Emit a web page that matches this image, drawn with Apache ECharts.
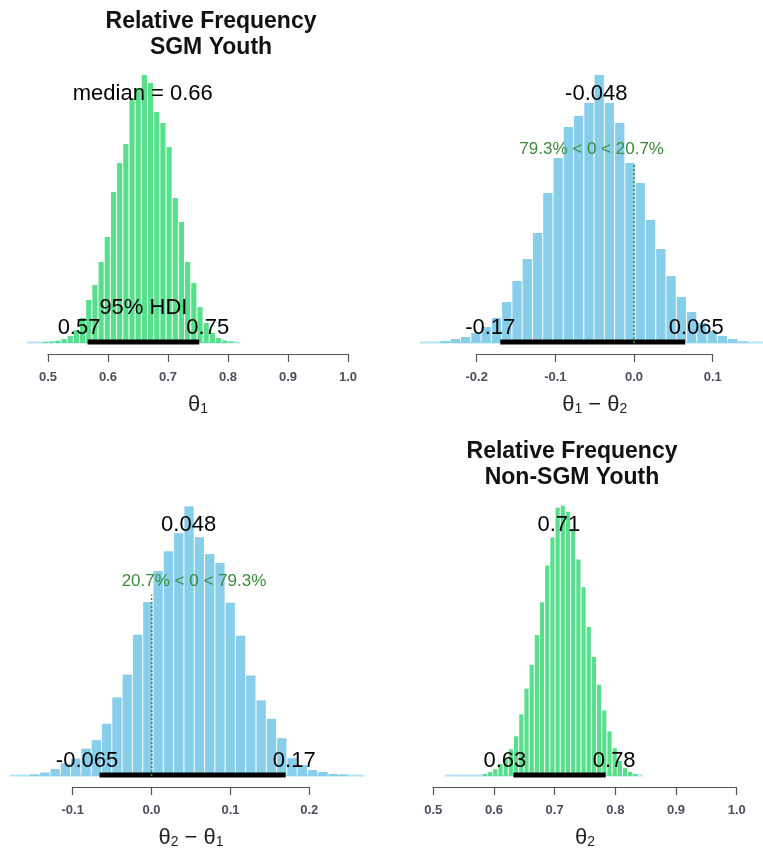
<!DOCTYPE html>
<html><head><meta charset="utf-8">
<script src="https://cdn.jsdelivr.net/npm/echarts@6/dist/echarts.min.js"></script>
<style>html,body{margin:0;padding:0;background:#fff}#c{width:763px;height:850px}</style>
</head><body><div id="c"></div>
<script>
// ---------------- data ----------------
// Panel 1: theta1, SGM youth
const p1Ticks = [0.5, 0.6, 0.7, 0.8, 0.9, 1.0];
const p1BinStart = 0.4907, p1BinWidth = 0.0103;
const p1Freq = [1, 1.5, 2.5, 4, 7, 13, 25, 43, 58, 81, 106, 151, 180, 199, 245, 255, 268, 260, 231, 220, 196, 145, 121, 81, 60, 36, 20, 10, 5, 2.5, 1.5];
const p1Tail = [0.465, 0.82];
const p1Hdi = [0.566, 0.752];
const p1HdiLabels = ['0.57', '0.75'];
const p1Center = 0.658;
const p1CenterLabel = 'median = 0.66';

// Panel 2: theta1 - theta2
const p2Ticks = [-0.2, -0.1, 0.0, 0.1];
const p2BinStart = -0.2467, p2BinWidth = 0.01306;
const p2Freq = [2, 4, 6, 10, 16, 25, 41, 62, 84, 110, 150, 185, 216, 227, 240, 268, 240, 220, 180, 160, 123, 94, 67, 46, 31, 20, 12, 7, 4, 1.5];
const p2Tail = [-0.272, 0.164];
const p2Hdi = [-0.170, 0.065];
const p2HdiLabels = ['-0.17', '0.065'];
const p2Center = -0.048;
const p2CenterLabel = '-0.048';
const p2CompValue = 0;
const p2CompPct = [79.3, 20.7];

// Panel 3: theta2 - theta1
const p3Ticks = [-0.1, 0.0, 0.1, 0.2];
const p3BinStart = -0.1549, p3BinWidth = 0.01306;
const p3Freq = [1.5, 3.5, 7, 12.5, 17.5, 27.5, 36, 52.5, 79, 102, 142, 175, 206, 226, 244, 271, 240, 223, 214, 174, 141, 101, 76, 57.5, 38, 18, 11, 6, 4, 2, 1.5];
const p3Tail = [-0.18, 0.27];
const p3Hdi = [-0.066, 0.170];
const p3HdiLabels = ['-0.065', '0.17'];
const p3Center = 0.047;
const p3CenterLabel = '0.048';
const p3CompValue = 0;
const p3CompPct = [20.7, 79.3];

// Panel 4: theta2, Non-SGM youth
const p4Ticks = [0.5, 0.6, 0.7, 0.8, 0.9, 1.0];
const p4BinStart = 0.5809, p4BinWidth = 0.00855;
const p4Freq = [2, 4, 7, 12, 18, 27, 40, 62, 88, 112, 142, 175, 212, 240, 270, 272, 266, 248, 218, 190, 150, 120, 92, 66, 45, 28, 15, 8, 4, 2];
const p4Tail = [0.519, 0.845];
const p4Hdi = [0.632, 0.784];
const p4HdiLabels = ['0.63', '0.78'];
const p4Center = 0.707;
const p4CenterLabel = '0.71';

// ---------------- styling / layout ----------------
const FONT = '"Liberation Sans", Arial, sans-serif';
const GREEN = '#57df8c', BLUE = '#87ceeb', TAIL = '#b5e4f6', COMPCOL = '#3b8c3b';
const measureCtx = document.createElement('canvas').getContext('2d');
function textW(t, size, weight) {
  measureCtx.font = (weight || 'normal') + ' ' + size + 'px "Liberation Sans", Arial, sans-serif';
  return measureCtx.measureText(t).width;
}
function compLabel(pct, val) { return pct[0].toFixed(1) + '% < ' + val + ' < ' + pct[1].toFixed(1) + '%'; }

const panels = [
  { grid: {left: 48, top: 43, width: 300, height: 300}, ticks: p1Ticks, start: p1BinStart, bw: p1BinWidth, freq: p1Freq,
    color: GREEN, tail: p1Tail, hdi: p1Hdi, hdiLabels: p1HdiLabels, hdiTitle: true, center: p1Center, centerLabel: p1CenterLabel,
    comp: null, name: '{t|θ}{s|1}' },
  { grid: {left: 476.7, top: 43, width: 236, height: 300}, ticks: p2Ticks, start: p2BinStart, bw: p2BinWidth, freq: p2Freq,
    color: BLUE, tail: p2Tail, hdi: p2Hdi, hdiLabels: p2HdiLabels, hdiTitle: false, center: p2Center, centerLabel: p2CenterLabel,
    comp: {value: p2CompValue, pct: p2CompPct}, name: '{t|θ}{s|1}{t| − θ}{s|2}' },
  { grid: {left: 72.7, top: 477.5, width: 236.6, height: 300}, ticks: p3Ticks, start: p3BinStart, bw: p3BinWidth, freq: p3Freq,
    color: BLUE, tail: p3Tail, hdi: p3Hdi, hdiLabels: p3HdiLabels, hdiTitle: false, center: p3Center, centerLabel: p3CenterLabel,
    comp: {value: p3CompValue, pct: p3CompPct}, name: '{t|θ}{s|2}{t| − θ}{s|1}' },
  { grid: {left: 433.3, top: 478, width: 303.4, height: 300}, ticks: p4Ticks, start: p4BinStart, bw: p4BinWidth, freq: p4Freq,
    color: GREEN, tail: p4Tail, hdi: p4Hdi, hdiLabels: p4HdiLabels, hdiTitle: false, center: p4Center, centerLabel: p4CenterLabel,
    comp: null, name: '{t|θ}{s|2}' }
];

const option = {
  animation: false,
  backgroundColor: '#fff',
  grid: [], xAxis: [], yAxis: [], series: [],
  graphic: [
    {type: 'text', x: 211, y: 9, style: {text: 'Relative Frequency\nSGM Youth', align: 'center', verticalAlign: 'top',
      fontSize: 23, fontWeight: 'bold', fontFamily: FONT, lineHeight: 26, fill: '#111'}},
    {type: 'text', x: 572, y: 439, style: {text: 'Relative Frequency\nNon-SGM Youth', align: 'center', verticalAlign: 'top',
      fontSize: 23, fontWeight: 'bold', fontFamily: FONT, lineHeight: 26, fill: '#111'}}
  ]
};

panels.forEach((p, i) => {
  option.grid.push(p.grid);
  const step = Math.round((p.ticks[1] - p.ticks[0]) * 1e6) / 1e6;
  option.xAxis.push({
    type: 'value', gridIndex: i, min: p.ticks[0], max: p.ticks[p.ticks.length - 1], interval: step,
    offset: 11,
    axisLine: {show: true, onZero: false, lineStyle: {color: '#555', width: 1.2}},
    axisTick: {show: true, length: 8, lineStyle: {color: '#555', width: 1.2}},
    axisLabel: {margin: 17, color: '#4d4d5e', fontSize: 13, fontWeight: 'bold', fontFamily: FONT,
      formatter: v => (Math.abs(v) < 1e-9 ? 0 : v).toFixed(1)},
    splitLine: {show: false},
    name: p.name, nameLocation: 'middle', nameGap: 40,
    nameTextStyle: {rich: {
      t: {fontSize: 22, fontFamily: FONT, color: '#222'},
      s: {fontSize: 14, fontFamily: FONT, color: '#222', verticalAlign: 'bottom', padding: [8, 0, 0, 0]}
    }}
  });
  option.yAxis.push({type: 'value', gridIndex: i, min: 0, max: 300, show: false});

  const bins = p.freq.map((h, k) => [p.start + k * p.bw, p.start + (k + 1) * p.bw, h]);
  const maxH = Math.max(...p.freq);

  // light baseline of the far tails
  option.series.push({
    type: 'custom', xAxisIndex: i, yAxisIndex: i, z: 1, silent: true,
    data: [[p.tail[0], p.tail[1]]],
    renderItem: (params, api) => {
      const a = api.coord([api.value(0), 0]), b = api.coord([api.value(1), 0]);
      return {type: 'line', shape: {x1: a[0], y1: a[1] - 0.5, x2: b[0], y2: b[1] - 0.5}, style: {stroke: TAIL, lineWidth: 2}};
    }
  });
  // histogram
  option.series.push({
    type: 'custom', xAxisIndex: i, yAxisIndex: i, z: 2, silent: true,
    data: bins,
    encode: {x: [0, 1], y: 2},
    renderItem: (params, api) => {
      const a = api.coord([api.value(0), api.value(2)]), b = api.coord([api.value(1), 0]);
      return {type: 'rect', shape: {x: a[0] + 0.5, y: a[1], width: Math.max(0.5, b[0] - a[0] - 1), height: b[1] - a[1]},
        style: {fill: p.color}};
    }
  });
  // annotations: HDI, central tendency, comparison value
  option.series.push({
    type: 'custom', xAxisIndex: i, yAxisIndex: i, z: 3, silent: true,
    data: [[p.center, maxH]],
    renderItem: (params, api) => {
      const kids = [];
      const h0 = api.coord([p.hdi[0], 0]), h1 = api.coord([p.hdi[1], 0]);
      kids.push({type: 'line', shape: {x1: h0[0], y1: h0[1] - 1, x2: h1[0], y2: h1[1] - 1},
        style: {stroke: '#000', lineWidth: 5, lineCap: 'butt'}});
      const w0 = textW(p.hdiLabels[0], 22), w1 = textW(p.hdiLabels[1], 22);
      kids.push({type: 'text', style: {text: p.hdiLabels[0], x: h0[0] - 0.7 * w0, y: h0[1] - 15, align: 'left', verticalAlign: 'middle',
        fontSize: 22, fontFamily: FONT, fill: '#000'}});
      kids.push({type: 'text', style: {text: p.hdiLabels[1], x: h1[0] - 0.3 * w1, y: h1[1] - 15, align: 'left', verticalAlign: 'middle',
        fontSize: 22, fontFamily: FONT, fill: '#000'}});
      if (p.hdiTitle) {
        const m = api.coord([(p.hdi[0] + p.hdi[1]) / 2, 0]);
        kids.push({type: 'text', style: {text: '95% HDI', x: m[0], y: m[1] - 35, align: 'center', verticalAlign: 'middle',
          fontSize: 22, fontFamily: FONT, fill: '#000'}});
      }
      const c = api.coord([api.value(0), 0.9 * api.value(1)]);
      kids.push({type: 'text', style: {text: p.centerLabel, x: c[0], y: c[1] - 8, align: 'center', verticalAlign: 'middle',
        fontSize: 22, fontFamily: FONT, fill: '#000'}});
      if (p.comp) {
        const base = api.coord([p.comp.value, 0]);
        const top = api.coord([p.comp.value, 0.672 * maxH]);
        kids.push({type: 'line', shape: {x1: base[0], y1: base[1], x2: top[0], y2: top[1]},
          style: {stroke: COMPCOL, lineWidth: 1.5, lineDash: [2, 2]}});
        const txt = compLabel(p.comp.pct, p.comp.value);
        const tw = textW(txt, 17);
        const cy = api.coord([p.comp.value, 0.7 * maxH]);
        kids.push({type: 'text', style: {text: txt, x: cy[0] - (p.comp.pct[0] / 100) * tw, y: cy[1] - 6, align: 'left', verticalAlign: 'middle',
          fontSize: 17, fontFamily: FONT, fill: COMPCOL}});
      }
      return {type: 'group', children: kids};
    }
  });
});

const chart = echarts.init(document.getElementById('c'), null, {renderer: 'canvas'});
chart.setOption(option);
</script>
</body></html>
